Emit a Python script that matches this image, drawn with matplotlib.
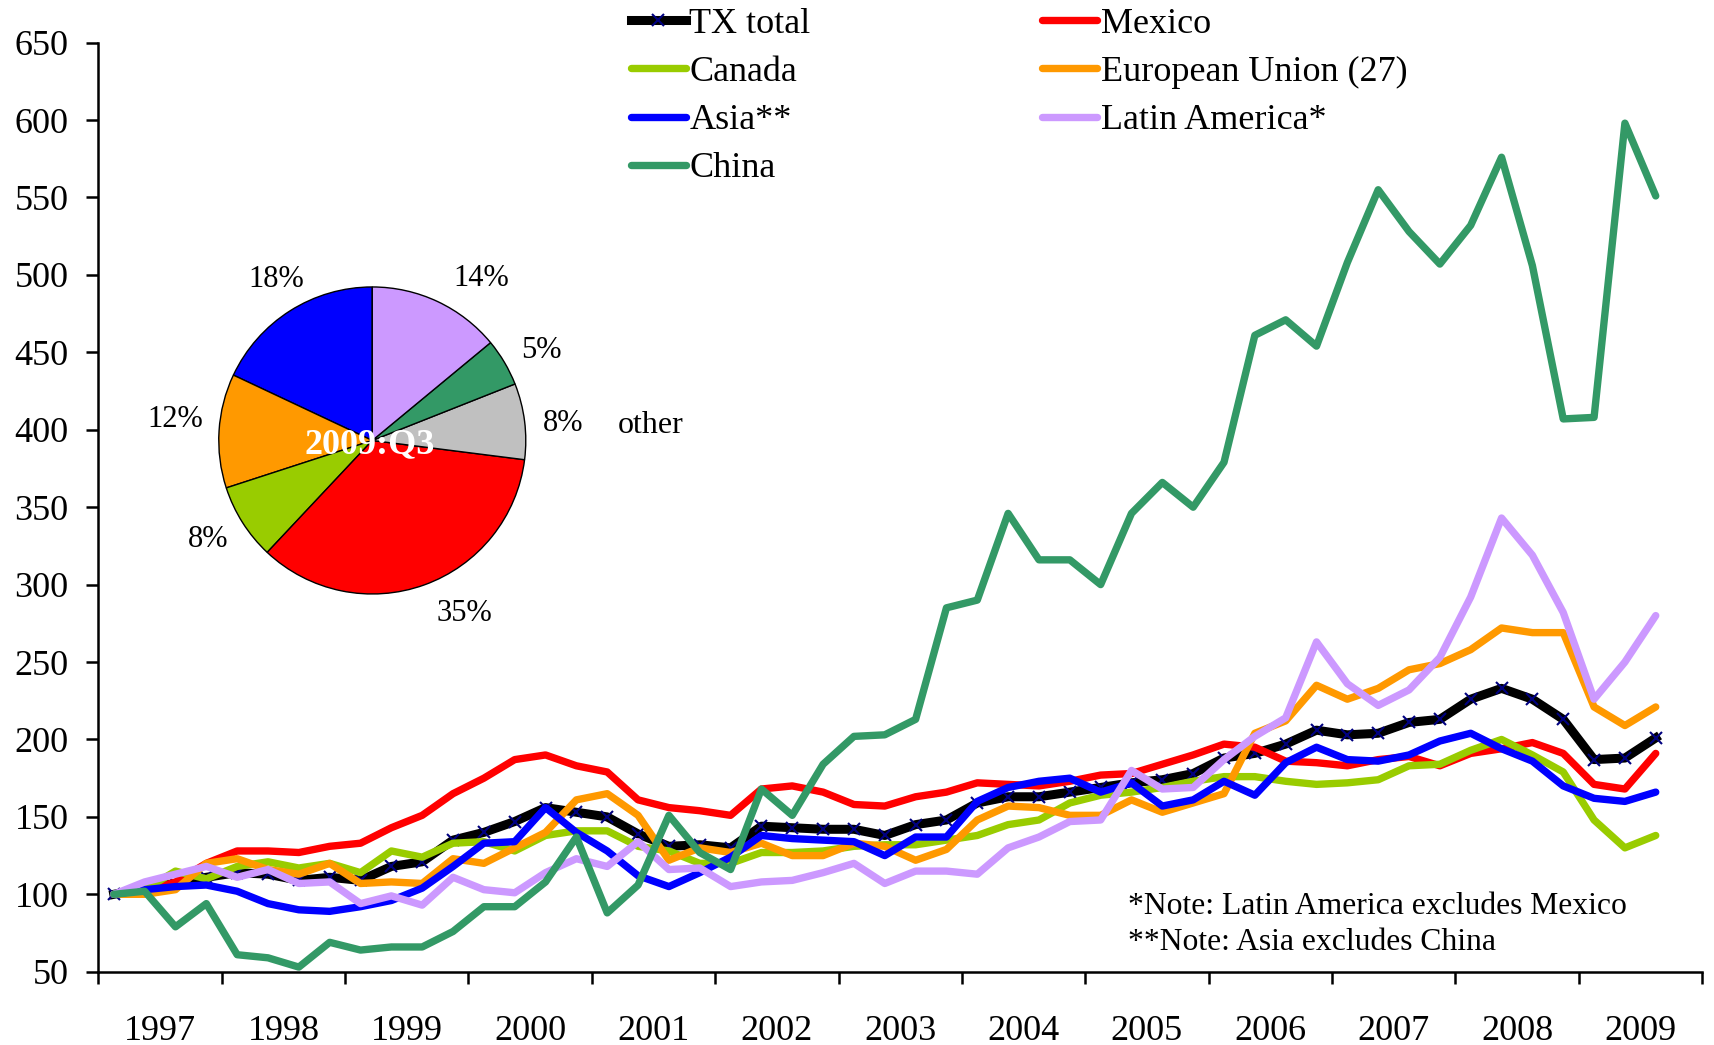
import matplotlib
matplotlib.use('Agg')
import numpy as np
import matplotlib.pyplot as plt

# === Daten (Index 1997:Q1 = 100, Quartale 1997:Q1 bis 2009:Q3) ===
jahre = [str(j) for j in range(1997, 2010)]

tx_total = [100, 104, 107, 111, 114, 113, 109, 111, 109, 118, 121, 135, 140, 147, 156,
            153, 150, 139, 131, 132, 130, 144, 143, 142, 142, 138, 145, 148, 159, 163,
            163, 166, 169, 172, 174, 178, 188, 191, 197, 206, 203, 204, 211, 213, 226,
            233, 226, 213, 187, 188, 201]
mexico = [100, 102, 108, 120, 128, 128, 127, 131, 133, 143, 151, 165, 175, 187, 190,
          183, 179, 161, 156, 154, 151, 168, 170, 166, 158, 157, 163, 166, 172, 171,
          170, 173, 177, 178, 184, 190, 197, 195, 186, 185, 183, 187, 189, 183, 191,
          194, 198, 191, 171, 168, 191]
canada = [100, 103, 115, 110, 118, 121, 117, 120, 114, 128, 124, 133, 134, 128, 138,
          141, 141, 131, 128, 120, 120, 127, 127, 128, 131, 132, 132, 135, 138, 145,
          148, 159, 164, 166, 169, 173, 176, 176, 173, 171, 172, 174, 183, 184, 193,
          200, 190, 179, 148, 130, 138]
eu27 = [100, 100, 103, 120, 123, 116, 113, 120, 107, 108, 107, 123, 120, 130, 140,
        161, 165, 151, 122, 130, 127, 133, 125, 125, 133, 131, 122, 129, 148, 157,
        156, 151, 151, 161, 153, 159, 165, 204, 212, 235, 226, 233, 245, 249, 258,
        272, 269, 269, 221, 209, 221]
asia = [100, 103, 105, 106, 102, 94, 90, 89, 92, 96, 104, 118, 133, 134, 156,
        140, 128, 112, 105, 114, 124, 138, 136, 135, 134, 125, 137, 137, 160, 169,
        173, 175, 166, 172, 157, 161, 173, 164, 185, 195, 187, 186, 190, 199, 204,
        194, 186, 170, 162, 160, 166]
latam = [100, 108, 113, 118, 111, 116, 107, 108, 94, 99, 93, 111, 103, 101, 114,
         123, 118, 134, 116, 117, 105, 108, 109, 114, 120, 107, 115, 115, 113, 130,
         137, 147, 148, 180, 168, 169, 187, 202, 214, 263, 236, 222, 232, 253, 292,
         343, 319, 282, 226, 250, 280]
china = [100, 102, 79, 94, 61, 59, 53, 69, 64, 66, 66, 76, 92, 92, 108,
         137, 88, 106, 151, 127, 116, 168, 151, 184, 202, 203, 213, 285, 290, 346,
         316, 316, 300, 346, 366, 350, 379, 461, 471, 454, 508, 555, 528, 507, 532,
         576, 506, 407, 408, 598, 551]

# Anteile 2009:Q3 (gegen den Uhrzeigersinn ab 12 Uhr)
pie_namen = ['Asia', 'EU', 'Canada', 'Mexico', 'other', 'China', 'Latin America']
pie_anteile = [18, 12, 8, 35, 8, 5, 14]

# === Farben ===
FARBEN = {
    'TX total': 'black',
    'Mexico': '#FF0000',
    'Canada': '#99CC00',
    'European Union (27)': '#FF9900',
    'Asia**': '#0000FF',
    'Latin America*': '#CC99FF',
    'China': '#339966',
}
pie_farben = ['#0000FF', '#FF9900', '#99CC00', '#FF0000', '#C0C0C0', '#339966', '#CC99FF']

plt.rcParams['font.family'] = ['Liberation Serif', 'DejaVu Serif']

# === Hauptdiagramm ===
fig = plt.figure(figsize=(17.14, 10.45), dpi=100)
ax = fig.add_axes([0.0574, 0.0701, 0.9356, 0.8891])

x = np.arange(len(tx_total)) + 0.5
linien = {}
linien['TX total'], = ax.plot(x, tx_total, color=FARBEN['TX total'], lw=6.5,
                              marker='x', ms=9, mec='#000080', mew=1.5,
                              solid_joinstyle='round', label='TX total')
for werte, name in [(mexico, 'Mexico'), (canada, 'Canada'),
                    (eu27, 'European Union (27)'), (asia, 'Asia**'),
                    (latam, 'Latin America*'), (china, 'China')]:
    linien[name], = ax.plot(x, werte, color=FARBEN[name], lw=5.3,
                            solid_joinstyle='round', solid_capstyle='round', label=name)

ax.set_xlim(0, 4 * len(jahre))
ax.set_ylim(50, 650)
ax.set_yticks(np.arange(50, 651, 50))
ax.set_xticks(np.arange(0, 4 * len(jahre) + 1, 4))
ax.set_xticklabels([])
ax.set_xticks(np.arange(2, 4 * len(jahre), 4), minor=True)
ax.set_xticklabels(jahre, minor=True)

ax.tick_params(axis='x', which='major', length=8.5, width=1.8, direction='out')
ax.tick_params(axis='x', which='minor', length=0, pad=31, labelsize=26)
ax.tick_params(axis='y', length=8.5, width=1.8, pad=13, labelsize=26)
for s in ['top', 'right']:
    ax.spines[s].set_visible(False)
for s in ['left', 'bottom']:
    ax.spines[s].set_linewidth(1.8)

# === Legende (2 Spalten, ohne Rahmen) ===
reihenfolge = ['TX total', 'Canada', 'Asia**', 'China',
               'Mexico', 'European Union (27)', 'Latin America*']
ax.legend(handles=[linien[n] for n in reihenfolge], ncol=2, loc='upper left',
          bbox_to_anchor=(0.368, 0.9926), bbox_transform=fig.transFigure,
          frameon=False, fontsize=26, handlelength=1.52, handletextpad=0.1,
          columnspacing=6.42, labelspacing=0.41, borderpad=0, borderaxespad=0)

# === Fussnoten ===
ax.text(0.642, 0.070, '*Note: Latin America excludes Mexico', transform=ax.transAxes,
        fontsize=22.8, ha='left', va='center')
ax.text(0.642, 0.031, '**Note: Asia excludes China', transform=ax.transAxes,
        fontsize=22.8, ha='left', va='center')

# === Kreisdiagramm 2009:Q3 ===
ax_pie = fig.add_axes([0.1276, 0.4316, 0.1792, 0.2938])
_, _, prozente = ax_pie.pie(pie_anteile, colors=pie_farben, startangle=90,
                            counterclock=True, autopct=lambda p: f'{p:.0f}%',
                            wedgeprops=dict(edgecolor='black', linewidth=1.0),
                            textprops=dict(fontsize=22))
# Beschriftungen wie in Excel ("beste Anpassung"): Winkel in Grad, Abstand in Radien
label_lage = [(121, 1.22), (174, 1.29), (211, 1.25), (-62, 1.28),
              (5, 1.25), (28, 1.245), (56, 1.27)]
for t, (w, r) in zip(prozente, label_lage):
    t.set_position((r * np.cos(np.radians(w)), r * np.sin(np.radians(w))))
ax_pie.set_xlim(-1, 1)
ax_pie.set_ylim(-1, 1)
ax_pie.set_aspect('equal')
ax_pie.text(1.81, 0.10, 'other', fontsize=23, ha='center', va='center')
ax_pie.text(-0.02, -0.03, '2009:Q3', color='white', fontsize=26, fontweight='bold',
            ha='center', va='center')

fig.savefig('out.png', dpi=100)
